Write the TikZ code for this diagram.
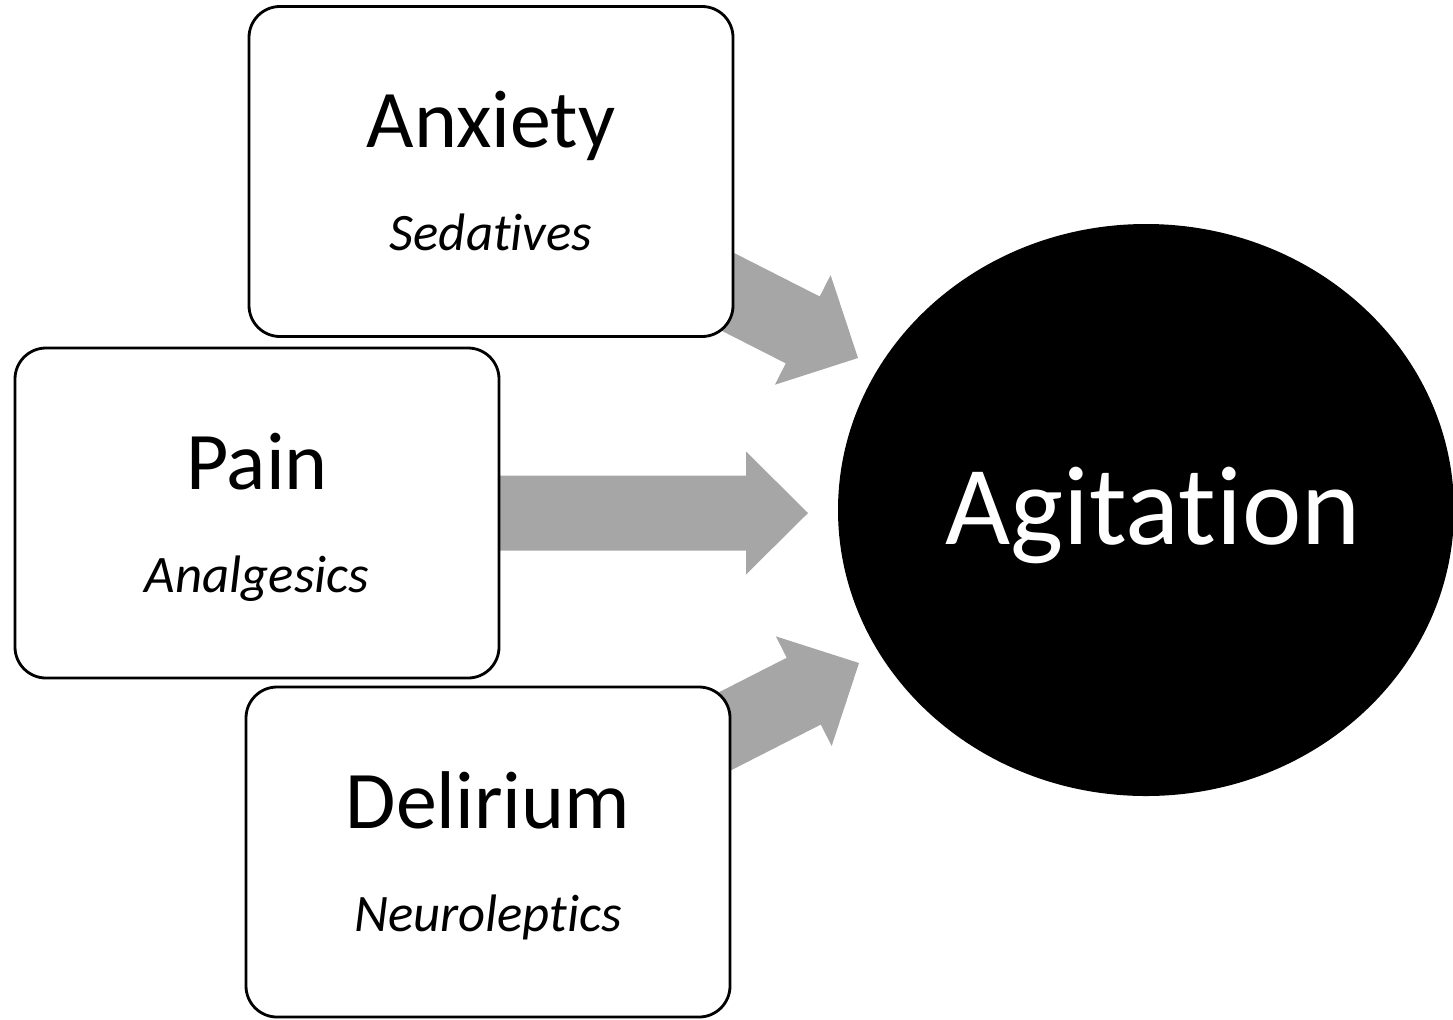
\documentclass[tikz,border=0pt]{standalone}
\usepackage{fontspec}
\setmainfont{Carlito}[Ligatures=NoCommon]
\usetikzlibrary{shapes.geometric,calc,backgrounds}
\definecolor{arrowgrey}{RGB}{166,166,166}

\begin{document}
\begin{tikzpicture}[
    causebox/.style={draw, line width=0.8pt, rounded corners=0.31cm, fill=white,
        minimum width=4.84cm, minimum height=3.30cm, inner sep=0pt},
    causetitle/.style={anchor=base, font=\fontsize{23.3}{28}\selectfont},
    drugname/.style={anchor=base, font=\fontsize{15}{18}\selectfont\itshape},
    outcome/.style={ellipse, fill=black, text=white, minimum width=6.16cm,
        minimum height=5.72cm, inner sep=0pt, font=\fontsize{32}{38}\selectfont},
    blockarrow/.style={fill=arrowgrey, to path={
        ($(\tikztostart)!0.375cm!90:(\tikztotarget)$)
        -- ($($(\tikztotarget)!0.62cm!(\tikztostart)$)!0.375cm!-90:(\tikztostart)$)
        -- ($($(\tikztotarget)!0.62cm!(\tikztostart)$)!0.615cm!-90:(\tikztostart)$)
        -- (\tikztotarget)
        -- ($($(\tikztotarget)!0.62cm!(\tikztostart)$)!0.615cm!90:(\tikztostart)$)
        -- ($($(\tikztotarget)!0.62cm!(\tikztostart)$)!0.375cm!90:(\tikztostart)$)
        -- ($(\tikztostart)!0.375cm!-90:(\tikztotarget)$)
        -- cycle}},
]
    \useasboundingbox (0,0) rectangle (14.53,-10.19);

    % Causes
    \node[causebox] (anx) at (4.91,-1.715) {};
    \node[causebox] (pain) at (2.57,-5.13) {};
    \node[causebox] (delir) at (4.88,-8.52) {};

    \node[causetitle] (anx-title) at ($(anx.center)+(0,0.24)$) {Anxiety};
    \node[drugname] (anx-drug) at ($(anx.center)+(0,-0.79)$) {Sedatives};
    \node[causetitle] (pain-title) at ($(pain.center)+(0,0.24)$) {Pain};
    \node[drugname] (pain-drug) at ($(pain.center)+(0,-0.79)$) {Analgesics};
    \node[causetitle] (delir-title) at ($(delir.center)+(0,0.24)$) {Delirium};
    \node[drugname] (delir-drug) at ($(delir.center)+(0,-0.79)$) {Neuroleptics};

    % Outcome
    \node[outcome] (agit) at (11.46,-5.10) {};
    \node[text=white, anchor=base, font=\fontsize{32}{38}\selectfont] (agit-text)
        at ($(agit.center)+(0.07,-0.34)$) {Agitation};

    % Arrow tips (free ends)
    \coordinate (anx-tip) at (8.58,-3.58);
    \coordinate (pain-tip) at (8.08,-5.13);
    \coordinate (delir-tip) at (8.59,-6.63);

    % Block arrows behind the boxes
    \begin{scope}[on background layer]
        \foreach \src in {anx,pain,delir} {
            \path[blockarrow] (\src.center) to (\src-tip);
        }
    \end{scope}
\end{tikzpicture}
\end{document}
